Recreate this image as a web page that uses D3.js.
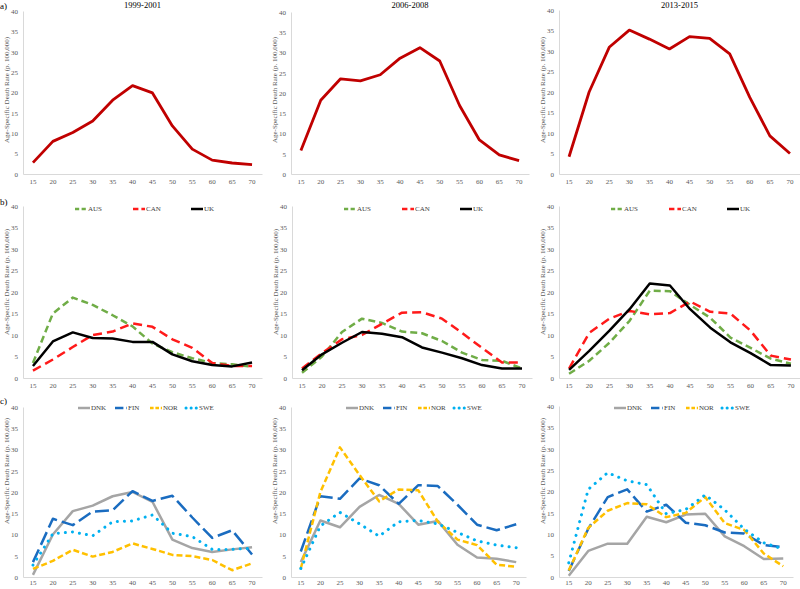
<!DOCTYPE html>
<html><head><meta charset="utf-8">
<script src="https://cdn.jsdelivr.net/npm/d3@7"></script>
<style>body{margin:0;background:#fff}svg{display:block}</style>
</head><body>
<svg id="chart" width="800" height="589"></svg>
<script>
// ---------------- DATA ----------------
const ages = [15,20,25,30,35,40,45,50,55,60,65,70];
const periods = ["1999-2001","2006-2008","2013-2015"];
const rowLabels = ["a)","b)","c)"];
const yTicks = [0,5,10,15,20,25,30,35,40];
const yTitle = "Age-Specific Death Rate (p. 100,000)";

// Row a: all countries combined
const total1999 = [2.8,8.0,10.2,13.0,18.1,21.7,19.9,11.8,6.1,3.4,2.7,2.3];
const total2006 = [5.8,18.2,23.5,23.0,24.5,28.6,31.2,27.9,16.9,8.4,4.7,3.3];
const total2013 = [4.2,20.0,30.9,35.1,32.9,30.5,33.5,33.1,29.3,18.7,9.3,5.0];

// Row b
const aus1999 = [3.5,15.0,18.7,17.0,14.6,12.0,8.0,6.0,4.6,3.5,3.2,2.6];
const can1999 = [1.7,4.3,7.2,10.0,10.8,12.7,11.9,9.0,7.0,3.5,2.8,2.8];
const uk1999  = [2.8,8.5,10.6,9.3,9.2,8.4,8.4,5.5,3.9,3.0,2.7,3.6];
const aus2006 = [1.2,5.0,10.7,13.8,12.8,10.8,10.4,8.6,5.9,4.2,4.0,2.2];
const can2006 = [2.2,5.8,9.0,10.0,12.6,15.2,15.3,13.8,10.5,7.0,3.6,3.6];
const uk2006  = [1.8,5.5,8.2,10.7,10.3,9.5,7.1,5.9,4.6,3.0,2.2,2.2];
const aus2013 = [1.0,4.0,8.2,13.3,20.3,20.2,17.0,14.0,9.4,7.0,4.5,3.3];
const can2013 = [2.2,10.5,13.8,15.6,14.8,15.1,17.8,15.4,15.0,11.0,5.2,4.3];
const uk2013  = [1.9,6.3,11.0,16.0,22.0,21.5,16.0,11.7,8.3,5.8,3.0,2.9];

// Row c
const dnk1999 = [0.5,10.0,15.5,16.8,19.0,20.0,17.7,8.8,6.8,5.9,6.5,7.0];
const fin1999 = [3.5,13.7,12.2,15.4,15.7,20.2,17.9,19.1,14.0,9.2,11.0,5.3];
const nor1999 = [1.9,3.8,6.4,4.8,5.9,7.9,6.6,5.2,4.9,4.0,1.6,3.2];
const swe1999 = [2.8,10.2,10.6,9.7,13.0,13.2,14.6,10.3,9.5,6.5,6.5,6.8];
const dnk2006 = [3.5,13.3,11.7,16.5,19.3,17.2,12.3,13.2,7.6,4.6,4.3,3.5];
const fin2006 = [6.0,19.0,18.4,23.2,21.6,17.2,21.6,21.4,17.0,12.3,11.0,12.4];
const nor2006 = [2.0,20.0,30.5,24.0,17.8,20.6,20.4,13.0,8.8,7.5,2.9,2.4];
const swe2006 = [2.0,12.0,15.2,12.5,9.6,13.0,13.3,12.5,10.5,8.5,7.5,6.9];
const dnk2013 = [0.3,6.1,7.8,7.8,14.1,12.8,14.6,14.8,9.5,7.2,4.2,4.3];
const fin2013 = [1.4,11.3,18.7,20.5,15.3,16.9,12.7,12.1,10.4,10.2,7.5,7.0];
const nor2013 = [1.5,11.5,15.5,17.3,17.0,14.0,15.0,18.7,12.6,11.0,5.5,2.5];
const swe2013 = [3.3,20.5,24.4,22.5,21.6,14.8,15.8,19.2,15.7,11.2,8.0,6.5];

// ---------------- STYLES ----------------
const st = {
  total: {color:"#c00000", dash:null, w:2.8},
  AUS: {color:"#70ad47", dash:"7,4", w:2.5},
  CAN: {color:"#ff1a1a", dash:"9,5", w:2.5},
  UK:  {color:"#000000", dash:null, w:2.5},
  DNK: {color:"#a5a5a5", dash:null, w:2.5},
  FIN: {color:"#1a6cc0", dash:"14,5", w:2.5},
  NOR: {color:"#ffc000", dash:"6,3", w:2.5},
  SWE: {color:"#00b0f0", dash:"0.1,7", w:3, cap:"round"}
};

const panels = [
  [ [{n:"total",d:total1999}], [{n:"total",d:total2006}], [{n:"total",d:total2013}] ],
  [ [{n:"AUS",d:aus1999},{n:"CAN",d:can1999},{n:"UK",d:uk1999}],
    [{n:"AUS",d:aus2006},{n:"CAN",d:can2006},{n:"UK",d:uk2006}],
    [{n:"AUS",d:aus2013},{n:"CAN",d:can2013},{n:"UK",d:uk2013}] ],
  [ [{n:"DNK",d:dnk1999},{n:"FIN",d:fin1999},{n:"NOR",d:nor1999},{n:"SWE",d:swe1999}],
    [{n:"DNK",d:dnk2006},{n:"FIN",d:fin2006},{n:"NOR",d:nor2006},{n:"SWE",d:swe2006}],
    [{n:"DNK",d:dnk2013},{n:"FIN",d:fin2013},{n:"NOR",d:nor2013},{n:"SWE",d:swe2013}] ]
];

// ---------------- LAYOUT ----------------
const rowY = [[[11,174],[12,174],[10,174]], [[206,378],[206,378],[206,378]], [[407,577],[407,577],[406,577]]];
const colX = [[[23,262],[291,529],[559,800]], [[23,262],[292,532],[559,801]], [[23,262],[291,526],[559,793]]];
const xPad = [5, 5, 3];
const yTitleCenter = [90, 282, 471];
const legendOffsets = [null, [52,110,168], [55,92,127,163]];
const legendY = [null, 209, 408];
const serif = "'Liberation Serif','Times New Roman',serif";

const svg = d3.select("#chart");

rowLabels.forEach((t,r)=>{
  svg.append("text").attr("x",0).attr("y",[9,205,404][r])
    .attr("font-family",serif).attr("font-size",9).attr("fill","#000").text(t);
});

for (let r=0;r<3;r++){
  for (let c=0;c<3;c++){
    const [x0,x1] = colX[r][c];
    const [yt,yb] = rowY[r][c];
    const x = d3.scaleBand().domain(ages).range([x0,x1]).padding(0);
    const y = d3.scaleLinear().domain([0,40]).range([yb,yt]);
    const g = svg.append("g");

    const ya = g.append("g").attr("transform",`translate(${x0},0)`)
      .call(d3.axisLeft(y).tickValues(yTicks).tickSize(0).tickPadding(5).tickSizeOuter(0));
    const xa = g.append("g").attr("transform",`translate(0,${yb})`)
      .call(d3.axisBottom(x).tickSize(0).tickPadding(xPad[r]).tickSizeOuter(0));
    [ya,xa].forEach(a=>{
      a.select(".domain").attr("stroke","#d9d9d9").attr("stroke-width",1);
      a.selectAll("text").attr("font-family",serif).attr("font-size",7).attr("fill","#595959");
    });

    g.append("text")
      .attr("transform",`translate(${x0-16},${yTitleCenter[r]}) rotate(-90)`)
      .attr("text-anchor","middle").attr("dominant-baseline","middle")
      .attr("font-family",serif).attr("font-size",7).attr("fill","#595959")
      .text(yTitle);

    if (r===0){
      g.append("text").attr("x",(x0+x1)/2).attr("y",8)
        .attr("text-anchor","middle").attr("font-family",serif).attr("font-size",8.5)
        .attr("fill","#000").text(periods[c]);
    }

    const line = d3.line().x((v,i)=>x(ages[i])+x.bandwidth()/2).y(v=>y(v));
    panels[r][c].forEach(s=>{
      const sty = st[s.n];
      g.append("path").attr("d",line(s.d)).attr("fill","none")
        .attr("stroke",sty.color).attr("stroke-width",sty.w)
        .attr("stroke-linejoin","round")
        .attr("stroke-linecap",sty.cap||"butt")
        .attr("stroke-dasharray",sty.dash);
    });

    if (r>0){
      panels[r][c].forEach((s,i)=>{
        const sty = st[s.n];
        const lx = x0 + legendOffsets[r][i];
        const ly = legendY[r];
        g.append("line").attr("x1",lx).attr("x2",lx+12).attr("y1",ly).attr("y2",ly)
          .attr("stroke",sty.color).attr("stroke-width",sty.w)
          .attr("stroke-linecap",sty.cap||"butt")
          .attr("stroke-dasharray",sty.dash ? (s.n==="SWE"?"0.1,5":sty.dash.split(",").map(v=>+v*0.6).join(",")) : null);
        g.append("text").attr("x",lx+13).attr("y",ly).attr("dominant-baseline","middle")
          .attr("font-family",serif).attr("font-size",7).attr("fill","#404040").text(s.n);
      });
    }
  }
}
</script>
</body></html>
